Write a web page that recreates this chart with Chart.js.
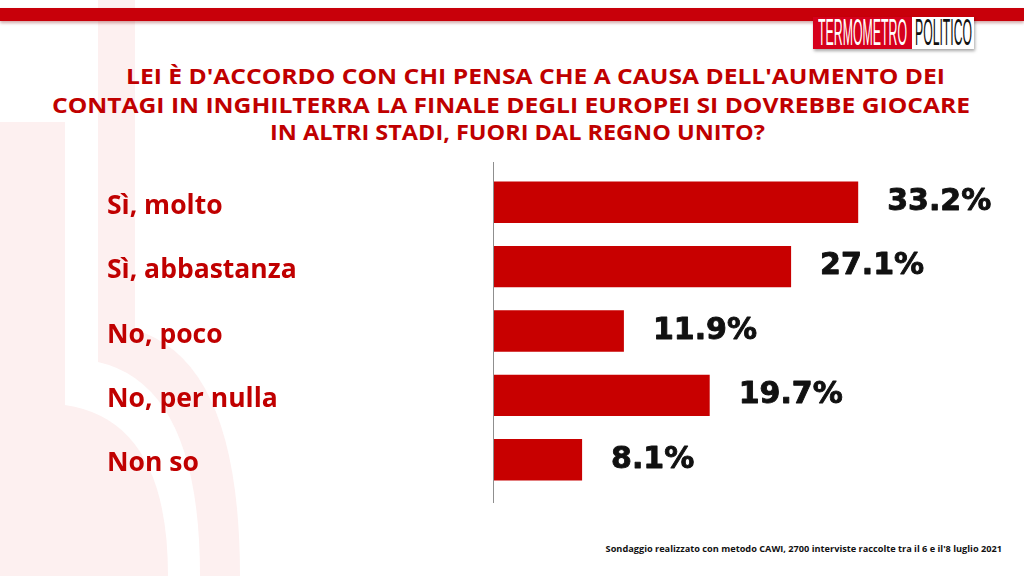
<!DOCTYPE html>
<html>
<head>
<meta charset="utf-8">
<script src="https://cdn.jsdelivr.net/npm/chart.js@4"></script>
<style>
  html,body{margin:0;padding:0;background:#fff;}
  #wrap{position:relative;width:1024px;height:576px;overflow:hidden;background:#fff;}
  #bg{position:absolute;left:0;top:0;}
  #band{position:absolute;left:0;top:8px;width:1024px;height:13px;background:#c8000a;box-shadow:0 2px 3px rgba(120,0,0,0.35);}
  #logo{position:absolute;left:813px;top:17px;height:32px;display:flex;box-shadow:1px 2px 3px rgba(0,0,0,0.35);}
  #logo .a{background:#d6001c;width:99px;height:32px;position:relative;overflow:hidden;}
  #logo .b{background:#fff;width:62px;height:32px;position:relative;overflow:hidden;}
  #logo span{position:absolute;top:-1px;left:0;font-family:"Liberation Sans Narrow","Liberation Sans","DejaVu Sans",sans-serif;font-size:36px;line-height:34px;transform-origin:0 0;white-space:nowrap;}
  #logo .a span{color:#fff;}
  #logo .b span{color:#111;}
  .title{position:absolute;color:#c00000;font-family:"Open Sans",sans-serif;font-weight:700;font-size:22px;white-space:nowrap;line-height:28px;transform-origin:0 0;}
  #foot{position:absolute;right:22px;top:542px;font-family:"Open Sans",sans-serif;font-weight:700;font-size:9.2px;color:#111;white-space:nowrap;}
  canvas{position:absolute;left:0;top:0;}
</style>
</head>
<body>
<div id="wrap">
  <svg id="bg" width="1024" height="576">
    <rect x="98" y="0" width="37" height="362" fill="#fdf0f0"/>
    <path d="M98 340 L135 330 Q240 360 240 576 L200 576 Q200 385 98 362 Z" fill="#fdf0f0"/>
    <rect x="0" y="122" width="65" height="454" fill="#fdf0f0"/>
    <path d="M65 405 Q168 420 168 576 L65 576 Z" fill="#fdf0f0"/>
  </svg>
  <div id="band"></div>
  <div id="logo"><div class="a"><span data-w="89" data-x="5">TERMOMETRO</span></div><div class="b"><span data-w="57" data-x="3">POLITICO</span></div></div>
  <div class="title" data-x="126" data-w="819" style="top:61px;">LEI È D'ACCORDO CON CHI PENSA CHE A CAUSA DELL'AUMENTO DEI</div>
  <div class="title" data-x="52" data-w="918" style="top:90px;">CONTAGI IN INGHILTERRA LA FINALE DEGLI EUROPEI SI DOVREBBE GIOCARE</div>
  <div class="title" data-x="270" data-w="495" style="top:117px;">IN ALTRI STADI, FUORI DAL REGNO UNITO?</div>
  <div id="foot">Sondaggio realizzato con metodo CAWI, 2700 interviste raccolte tra il 6 e il'8 luglio 2021</div>
  <canvas id="c" width="1024" height="576"></canvas>
</div>
<script>
const categories = ['Sì, molto', 'Sì, abbastanza', 'No, poco', 'No, per nulla', 'Non so'];
const values = [33.2, 27.1, 11.9, 19.7, 8.1];
const valueLabels = ['33.2%', '27.1%', '11.9%', '19.7%', '8.1%'];

// fit text boxes horizontally (titles and logo words)
document.querySelectorAll('[data-w]').forEach(el => {
  const w = el.getBoundingClientRect().width;
  const target = parseFloat(el.dataset.w);
  el.style.left = el.dataset.x + 'px';
  el.style.transform = 'scaleX(' + (target / w) + ')';
});

const labelPlugin = {
  id: 'valueLabels',
  afterDatasetsDraw(chart) {
    const ctx = chart.ctx;
    const meta = chart.getDatasetMeta(0);
    ctx.save();
    ctx.fillStyle = '#111';
    ctx.strokeStyle = '#111';
    ctx.lineWidth = 0.9;
    ctx.lineJoin = 'round';
    ctx.font = 'bold 30px "DejaVu Sans", Verdana, sans-serif';
    ctx.textAlign = 'left';
    ctx.textBaseline = 'middle';
    meta.data.forEach((el, i) => {
      ctx.fillText(valueLabels[i], el.x + 29, el.y);
      ctx.strokeText(valueLabels[i], el.x + 29, el.y);
    });
    ctx.restore();
  }
};

const axisLinePlugin = {
  id: 'axisLine',
  afterDraw(chart) {
    const ctx = chart.ctx;
    const a = chart.chartArea;
    ctx.save();
    ctx.strokeStyle = '#8f8f8f';
    ctx.lineWidth = 1;
    ctx.beginPath();
    ctx.moveTo(a.left + 0.5, a.top - 8);
    ctx.lineTo(a.left + 0.5, a.bottom + 11);
    ctx.stroke();
    ctx.restore();
  }
};

new Chart(document.getElementById('c'), {
  type: 'bar',
  data: {
    labels: categories,
    datasets: [{
      data: values,
      backgroundColor: '#c80000',
      borderWidth: 0,
      barPercentage: 0.643,
      categoryPercentage: 1.0
    }]
  },
  options: {
    indexAxis: 'y',
    responsive: false,
    animation: false,
    devicePixelRatio: 1,
    layout: { padding: { left: 107, top: 170, bottom: 84, right: 36 } },
    plugins: { legend: { display: false }, tooltip: { enabled: false }, title: { display: false } },
    scales: {
      x: { display: false, min: 0, max: 45 },
      y: {
        grid: { display: false },
        border: { display: false },
        afterFit(scale) { scale.width = 386; },
        ticks: {
          crossAlign: 'far',
          color: '#c00000',
          font: { family: '"Open Sans", sans-serif', weight: 'bold', size: 26.5 },
          padding: 8,
          labelOffset: 4
        }
      }
    }
  },
  plugins: [labelPlugin, axisLinePlugin]
});
</script>
</body>
</html>
